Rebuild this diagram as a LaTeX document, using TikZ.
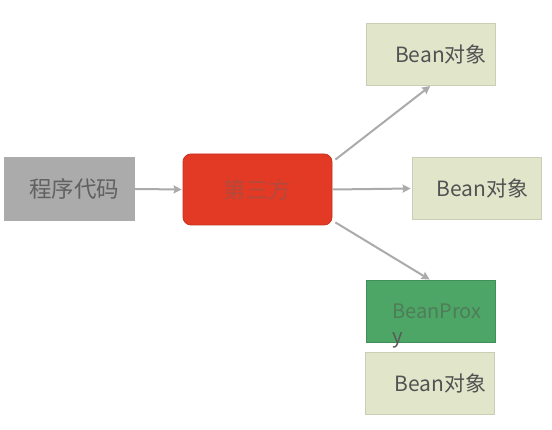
\documentclass[tikz,border=0pt]{standalone}
\usepackage{fontspec}
\setmainfont{Noto Sans CJK SC}
\usetikzlibrary{calc,arrows.meta}
\definecolor{codegray}{HTML}{ABABAB}
\definecolor{thirdred}{HTML}{E33A26}
\definecolor{thirdline}{HTML}{C9301F}
\definecolor{thirdtext}{HTML}{B24A3C}
\definecolor{beanfill}{HTML}{E1E6CB}
\definecolor{beanline}{HTML}{CACEB6}
\definecolor{proxyfill}{HTML}{4DA566}
\definecolor{proxyline}{HTML}{3F9058}
\definecolor{proxytext}{HTML}{4F7D5A}
\definecolor{arrowgray}{HTML}{ABABAB}
\tikzset{
	box/.style={rectangle, minimum width=129pt, minimum height=62pt, inner sep=0pt},
	beanbox/.style={box, fill=beanfill, draw=beanline, line width=0.8pt, text=black!68, font=\fontsize{21}{25}\selectfont},
	flow/.style={draw=arrowgray, line width=2pt, -{Stealth[length=8pt, width=8pt, inset=1pt]}, shorten >=1pt}
}

\begin{document}
\begin{tikzpicture}[x=1pt, y=-1pt]
		%%%%% START %%%%%
		
		\useasboundingbox[fill=white] (0, 0) rectangle (552, 430);
		
		\node[box, minimum width=131pt, minimum height=64pt, fill=codegray, text=black!62, font=\fontsize{22.5}{26}\selectfont] (code) at (69.5, 189) {\hspace{10pt}程序代码};
		\node[box, minimum width=149pt, minimum height=71pt, rounded corners=8pt, fill=thirdred, draw=thirdline, line width=0.8pt, text=thirdtext, font=\fontsize{22.5}{26}\selectfont] (third) at (257.5, 189.5) {第三方};
		
		\node[beanbox] (bean1) at (431, 54) {\hspace{20pt}Bean对象};
		\node[beanbox] (bean2) at (476.5, 188.5) {\hspace{12pt}Bean对象};
		\node[box, fill=proxyfill, draw=proxyline, line width=0.8pt] (proxy) at (430.5, 311.5) {};
		\node[text=proxytext, font=\fontsize{20}{25}\selectfont, align=left, inner sep=0pt, anchor=north west] (proxylabel) at (392, 304) {BeanProx\\\textcolor{black!65}{y}};
		\node[beanbox] (bean3) at (429.5, 383) {\hspace{22pt}Bean对象};
		
		\draw[flow] (code.east) -- (third.west);
		\draw[flow] ($(third.north east)+(3, 6)$) -- (bean1.south);
		\draw[flow] (third.east) -- (bean2.west);
		\draw[flow] ($(third.south east)+(3, -3)$) -- (proxy.north);
		
		%%%%% END %%%%%
	\end{tikzpicture}
\end{document}
